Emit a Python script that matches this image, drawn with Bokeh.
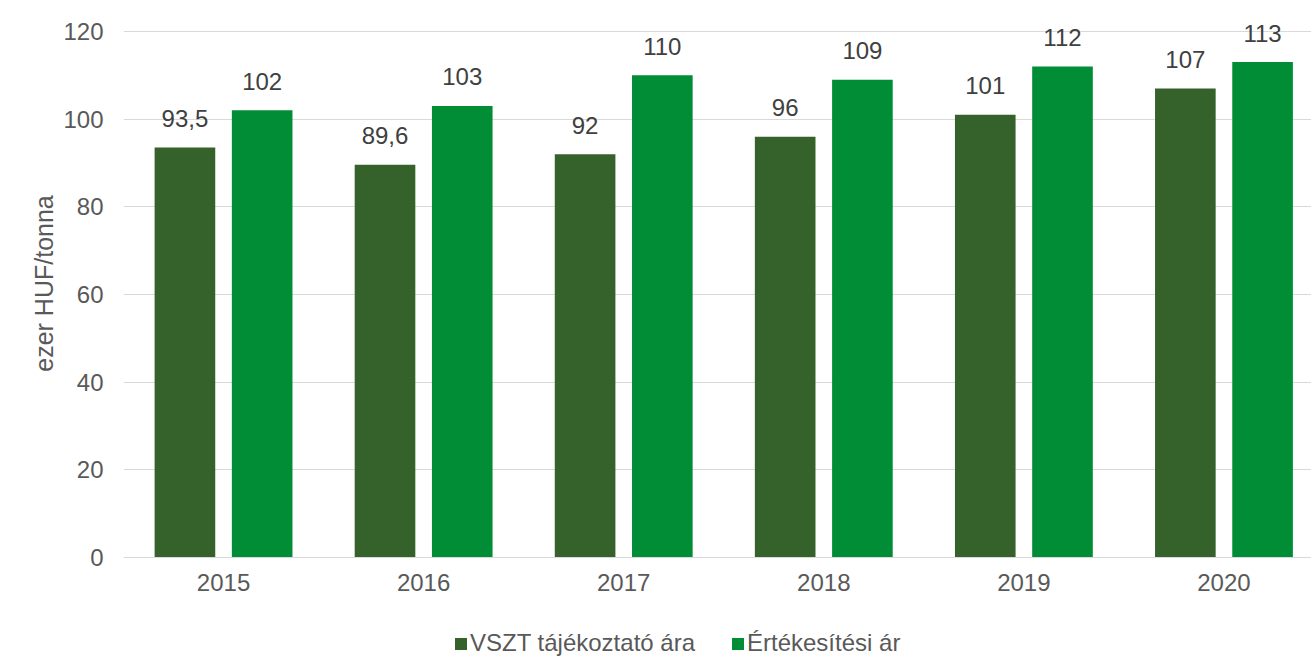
from bokeh.plotting import figure
from bokeh.layouts import column
from bokeh.models import (ColumnDataSource, Range1d, FixedTicker, Legend, LegendItem)
from bokeh.core.properties import value
from bokeh.embed import file_html
from bokeh.resources import INLINE

years = ["2015", "2016", "2017", "2018", "2019", "2020"]
vszt = [93.5, 89.6, 92, 96, 101, 107]
ertek = [102, 103, 110, 109, 112, 113]
series_names = ["VSZT tájékoztató ára", "Értékesítési ár"]
y_ticks = [0, 20, 40, 60, 80, 100, 120]

DARK = "#35622B"
BRIGHT = "#008D36"
FONT = "Liberation Sans"
FS = "24px"

def fmt(v):
    return f"{v:g}".replace(".", ",")

idx = list(range(len(years)))
src1 = ColumnDataSource(dict(x=[i - 0.193 for i in idx], y=vszt, lbl=[fmt(v) for v in vszt]))
src2 = ColumnDataSource(dict(x=[i + 0.193 for i in idx], y=ertek, lbl=[fmt(v) for v in ertek]))

p = figure(width=1311, height=613, output_backend="svg", toolbar_location=None,
           x_range=Range1d(-0.5, 5.4375), y_range=Range1d(0, 125),
           min_border_left=123, min_border_right=0, min_border_top=9, min_border_bottom=56)
p.outline_line_color = None
p.background_fill_color = "white"

p.vbar(x="x", top="y", width=0.303, source=src1, fill_color=DARK, line_color=None)
p.vbar(x="x", top="y", width=0.303, source=src2, fill_color=BRIGHT, line_color=None)

for s in (src1, src2):
    p.text(x="x", y="y", text="lbl", source=s, text_align="center", text_baseline="alphabetic",
           y_offset=-29, text_font=value(FONT), text_font_size=FS, text_color="#404040")

p.xgrid.grid_line_color = None
p.ygrid.grid_line_color = "#D9D9D9"
p.ygrid.grid_line_width = 1
p.ygrid.ticker = FixedTicker(ticks=y_ticks)

p.yaxis.ticker = FixedTicker(ticks=y_ticks)
p.yaxis.axis_line_color = None
p.yaxis.major_tick_line_color = None
p.yaxis.minor_tick_line_color = None
p.yaxis.major_tick_out = 0
p.yaxis.major_label_standoff = 20
p.yaxis.major_label_text_font = FONT
p.yaxis.major_label_text_font_size = FS
p.yaxis.major_label_text_color = "#595959"
p.yaxis.axis_label = "ezer HUF/tonna"
p.yaxis.axis_label_text_font = FONT
p.yaxis.axis_label_text_font_size = "25px"
p.yaxis.axis_label_text_font_style = "normal"
p.yaxis.axis_label_text_color = "#595959"
p.yaxis.axis_label_standoff = 2

p.xaxis.ticker = FixedTicker(ticks=idx)
p.xaxis.major_label_overrides = {i: y for i, y in zip(idx, years)}
p.xaxis.axis_line_color = "#D9D9D9"
p.xaxis.major_tick_line_color = None
p.xaxis.minor_tick_line_color = None
p.xaxis.major_tick_out = 0
p.xaxis.major_label_standoff = 16
p.xaxis.major_label_text_font = FONT
p.xaxis.major_label_text_font_size = FS
p.xaxis.major_label_text_color = "#595959"

# legend strip below the chart (its frame is aligned with the chart's frame)
lf = figure(width=1311, height=44, output_backend="svg", toolbar_location=None,
            x_range=Range1d(0, 1187), y_range=Range1d(0, 44),
            x_axis_type=None, y_axis_type=None,
            min_border_left=0, min_border_right=0, min_border_top=0, min_border_bottom=0)
lf.outline_line_color = None
lf.xgrid.grid_line_color = None
lf.ygrid.grid_line_color = None
# swatch-only renderers (zero-height, outside the visible range)
swatch = dict(x=[-100.0], top=[0.0])
l1 = lf.vbar(x="x", top="top", width=1, source=ColumnDataSource(swatch), fill_color=DARK, line_color=None)
l2 = lf.vbar(x="x", top="top", width=1, source=ColumnDataSource(swatch), fill_color=BRIGHT, line_color=None)
legend = Legend(items=[LegendItem(label=series_names[0], renderers=[l1]),
                       LegendItem(label=series_names[1], renderers=[l2])],
                orientation="horizontal", location=(330, 0),
                padding=0, margin=0, spacing=35, label_standoff=2,
                glyph_width=15, glyph_height=15, label_height=20,
                label_text_font=FONT, label_text_font_size=FS, label_text_color="#595959",
                border_line_color=None, background_fill_alpha=0)
lf.add_layout(legend, "center")

layout = column(p, lf, spacing=0)
open("out.html", "w").write(file_html(layout, INLINE))
